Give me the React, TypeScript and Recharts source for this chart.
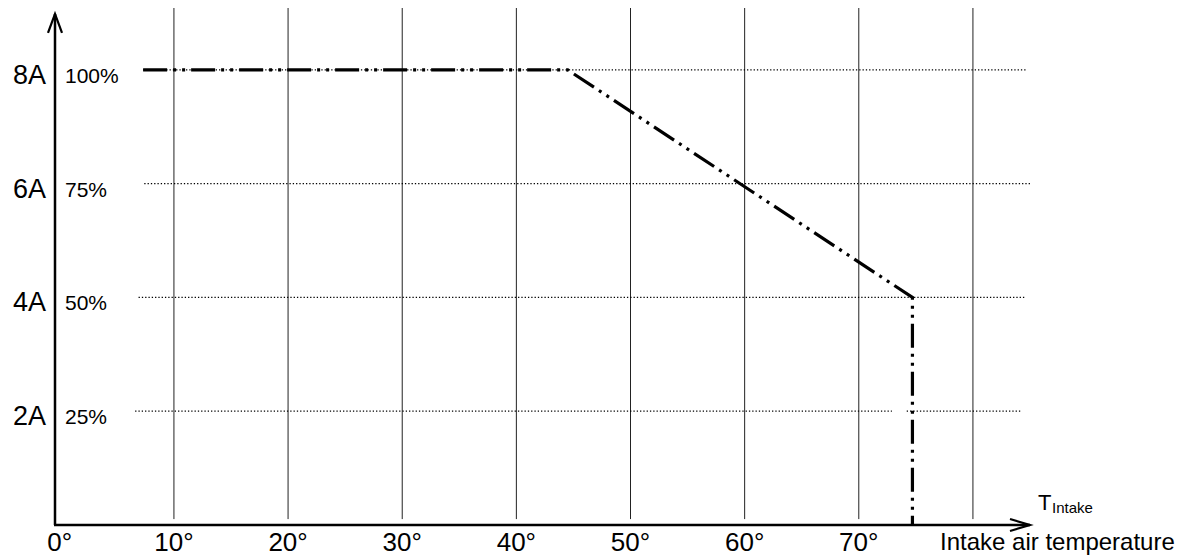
import { ComposedChart, Line, XAxis, YAxis, ReferenceLine, Customized } from 'recharts'

// derating curve: intake temperature (°C) vs. permitted load (%)
const curveTemps = [7.3, 44.5, 74.7, 74.7];
const curveLoads = [100, 100, 50, 0];

// axis ticks
const tempTicks = [0, 10, 20, 30, 40, 50, 60, 70];
const loadTicks = [25, 50, 75, 100];
const currentLabels = ['2A', '4A', '6A', '8A'];

// vertical grid lines
const gridTemps = [10, 20, 30, 40, 50, 60, 70, 80];

// dotted level lines: level, from temp, to temp
const dottedLevels = [100, 75, 50, 25, 25];
const dottedFrom = [7.3, 7.4, 6.9, 6.6, 74.2];
const dottedTo = [84.7, 85, 84.5, 72.9, 84.3];

const FONT = "Arial, 'Liberation Sans', sans-serif";
const X_MIN = -0.42;
const X_MAX = 85;
const Y_MAX = 113.6;

const data = curveTemps.map((t, i) => ({ temp: t, load: curveLoads[i] }));

const XTick = (props) => {
    const { x, y, payload } = props;
    return (
        <text x={x} y={y + 26} textAnchor="middle" fontSize={26} fontFamily={FONT} fill="#000">
            {payload.value}°
        </text>
    );
};

const YTick = (props) => {
    const { x, y, payload } = props;
    const idx = loadTicks.indexOf(payload.value);
    return (
        <g>
            <text x={x - 9} y={y + 14} textAnchor="end" fontSize={27} fontFamily={FONT} fill="#000">
                {currentLabels[idx]}
            </text>
            <text x={x + 10} y={y + 13} textAnchor="start" fontSize={21} fontFamily={FONT} fill="#000">
                {payload.value}%
            </text>
        </g>
    );
};

const upArrow = (props) => {
    const { x1, y1, x2, y2 } = props;
    return (
        <g stroke="#000" fill="none">
            <line x1={x1} y1={y1} x2={x2} y2={y2} strokeWidth={2.5} />
            <polyline points={`${x2 - 7},${y2 + 19} ${x2},${y2} ${x2 + 7},${y2 + 19}`} strokeWidth={2.2} />
        </g>
    );
};

const rightArrow = (props) => {
    const { x1, y1, x2, y2 } = props;
    return (
        <g stroke="#000" fill="none">
            <line x1={x1 - 1} y1={y1} x2={x2} y2={y2} strokeWidth={2.5} />
            <polyline points={`${x2 - 20},${y2 - 6} ${x2},${y2} ${x2 - 20},${y2 + 6}`} strokeWidth={2.2} />
        </g>
    );
};

const Labels = () => (
    <g fontFamily={FONT} fill="#000">
        <text x={1038} y={510} fontSize={22}>T</text>
        <text x={1052} y={513} fontSize={15}>Intake</text>
        <text x={940} y={550} fontSize={24}>Intake air temperature</text>
    </g>
);

export default function App() {
    return (
        <div style={{ position: 'absolute', left: 0, top: 0, width: 1181, height: 557, background: '#fff' }}>
            <ComposedChart
                width={1181}
                height={557}
                data={data}
                margin={{ top: 8, right: 151, bottom: 0, left: 0 }}
            >
                <XAxis
                    dataKey="temp"
                    type="number"
                    domain={[X_MIN, X_MAX]}
                    ticks={tempTicks}
                    interval={0}
                    height={32}
                    axisLine={false}
                    tickLine={false}
                    tickSize={0}
                    tickMargin={0}
                    tick={<XTick />}
                    allowDataOverflow
                />
                <YAxis
                    type="number"
                    domain={[0, Y_MAX]}
                    ticks={loadTicks}
                    interval={0}
                    width={55}
                    axisLine={false}
                    tickLine={false}
                    tickSize={0}
                    tickMargin={0}
                    tick={<YTick />}
                    allowDataOverflow
                />
                {gridTemps.map((t) => (
                    <ReferenceLine
                        key={`g-${t}`}
                        segment={[{ x: t, y: 1.3 }, { x: t, y: Y_MAX }]}
                        stroke="#222"
                        strokeWidth={1}
                        ifOverflow="visible"
                    />
                ))}
                {dottedLevels.map((lv, i) => (
                    <ReferenceLine
                        key={`d-${i}`}
                        segment={[{ x: dottedFrom[i], y: lv }, { x: dottedTo[i], y: lv }]}
                        stroke="#000"
                        strokeWidth={1.3}
                        strokeDasharray="1.3 2"
                        ifOverflow="visible"
                    />
                ))}
                <ReferenceLine
                    segment={[{ x: X_MIN, y: 0 }, { x: X_MIN, y: 112.3 }]}
                    shape={upArrow}
                    ifOverflow="visible"
                />
                <ReferenceLine
                    segment={[{ x: X_MIN, y: 0 }, { x: X_MAX, y: 0 }]}
                    shape={rightArrow}
                    ifOverflow="visible"
                />
                <Line
                    dataKey="load"
                    type="linear"
                    stroke="#000"
                    strokeWidth={3.2}
                    strokeDasharray="24 6 3 6 3 6"
                    dot={false}
                    isAnimationActive={false}
                />
                <Customized component={<Labels />} />
            </ComposedChart>
        </div>
    );
}
